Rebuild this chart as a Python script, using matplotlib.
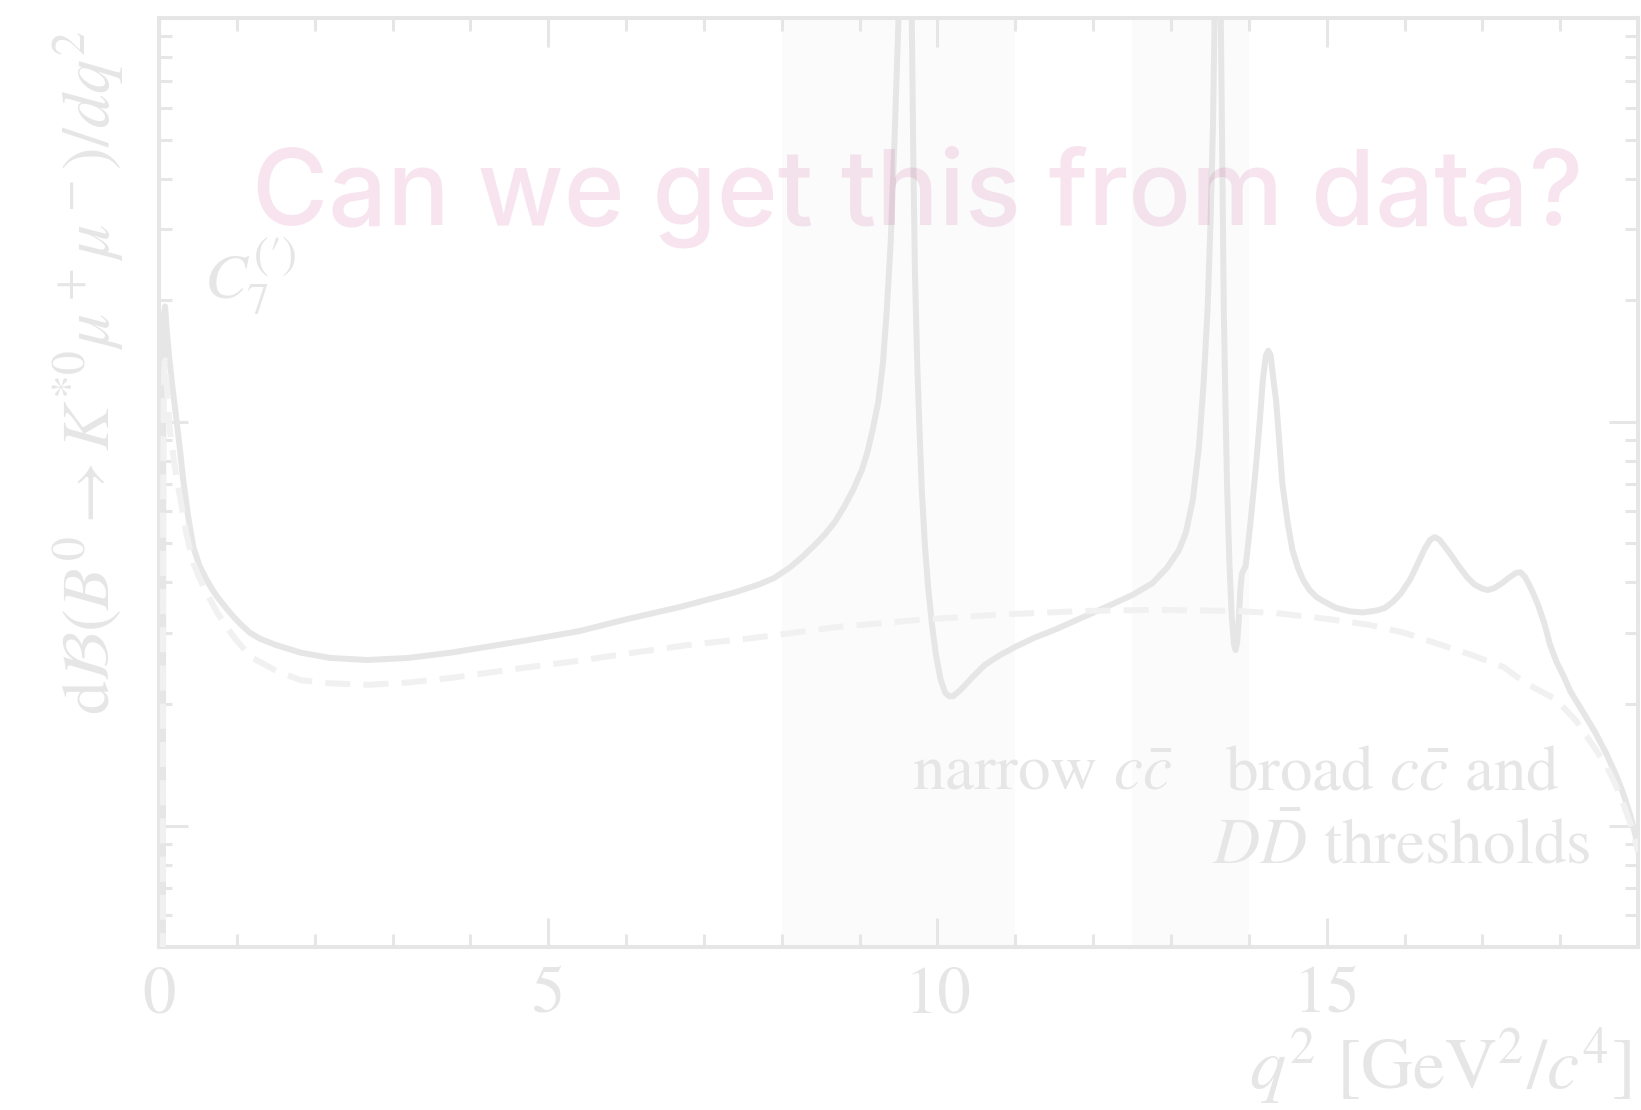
import matplotlib
matplotlib.use("Agg")
import matplotlib.pyplot as plt
from matplotlib.ticker import MultipleLocator, LogLocator, NullFormatter

# q^2 [GeV^2/c^4] and dB/dq^2 (arbitrary units, log scale)
q2_full = [0.045, 0.055, 0.065, 0.078, 0.10, 0.13, 0.17, 0.23, 0.27, 0.31, 0.37, 0.44,
           0.52, 0.60, 0.68, 0.75, 0.85, 0.95, 1.05, 1.17, 1.30, 1.50, 1.82, 2.20,
           2.68, 3.20, 3.75, 4.70, 5.40, 6.00, 6.70, 7.40, 7.70, 7.90, 8.10, 8.25,
           8.40, 8.55, 8.68, 8.80, 8.92, 9.03, 9.10, 9.17, 9.24, 9.30, 9.35, 9.40,
           9.45, 9.50, 9.585, 9.67, 9.69, 9.71, 9.74, 9.77, 9.80, 9.84, 9.88, 9.93,
           9.98, 10.04, 10.10, 10.15, 10.20, 10.30, 10.45, 10.61, 10.80, 11.00, 11.25, 11.50,
           11.90, 12.20, 12.50, 12.76, 12.95, 13.10, 13.19, 13.28, 13.36, 13.42, 13.47, 13.51,
           13.54, 13.56, 13.60, 13.64, 13.665, 13.68, 13.70, 13.72, 13.75, 13.78, 13.81, 13.83,
           13.85, 13.87, 13.89, 13.91, 13.96, 14.02, 14.09, 14.14, 14.18, 14.22, 14.25, 14.28,
           14.31, 14.35, 14.39, 14.43, 14.50, 14.56, 14.63, 14.70, 14.78, 14.87, 14.95, 15.12,
           15.30, 15.47, 15.65, 15.75, 15.85, 15.95, 16.07, 16.17, 16.26, 16.33, 16.39, 16.45,
           16.52, 16.60, 16.70, 16.80, 16.90, 17.00, 17.07, 17.15, 17.25, 17.35, 17.43, 17.49,
           17.55, 17.60, 17.65, 17.72, 17.80, 17.87, 17.95, 18.05, 18.13, 18.30, 18.45, 18.59,
           18.72, 18.81, 18.90, 18.97, 19.00]
dbr_full = [0.01, 12.0, 18.5, 19.3, 16.8, 14.5, 12.3, 9.9, 8.5, 7.2, 5.9, 4.9,
            4.4, 4.1, 3.85, 3.68, 3.48, 3.3, 3.15, 3.0, 2.9, 2.8, 2.68, 2.6,
            2.57, 2.6, 2.68, 2.87, 3.03, 3.24, 3.48, 3.78, 3.95, 4.1, 4.35, 4.6,
            4.9, 5.25, 5.64, 6.15, 6.8, 7.6, 8.4, 9.6, 11.2, 14.0, 19.0, 28.0,
            51.0, 100.0, 2000.0, 100.0, 45.0, 24.0, 14.0, 9.5, 6.7, 4.9, 3.9, 3.14,
            2.65, 2.3, 2.13, 2.09, 2.09, 2.17, 2.33, 2.5, 2.64, 2.77, 2.92, 3.05,
            3.3, 3.5, 3.72, 3.98, 4.35, 4.8, 5.3, 6.4, 8.7, 12.5, 19.0, 32.0,
            55.0, 100.0, 2000.0, 100.0, 35.0, 18.0, 11.0, 7.0, 4.5, 3.3, 2.8, 2.72,
            2.85, 3.2, 3.8, 4.2, 4.4, 5.6, 7.7, 10.0, 12.7, 14.6, 15.0, 14.6,
            13.0, 11.3, 9.0, 7.05, 5.6, 4.82, 4.35, 4.05, 3.83, 3.68, 3.6, 3.46,
            3.39, 3.37, 3.41, 3.46, 3.58, 3.75, 4.06, 4.45, 4.85, 5.1, 5.18, 5.1,
            4.9, 4.67, 4.38, 4.13, 3.95, 3.86, 3.83, 3.87, 3.98, 4.12, 4.22, 4.24,
            4.12, 3.95, 3.77, 3.5, 3.15, 2.8, 2.55, 2.33, 2.15, 1.9, 1.7, 1.51,
            1.33, 1.2, 1.06, 0.94, 0.88]

# short-distance part only (no charm loops)
q2_sd = [0.045, 0.052, 0.06, 0.07, 0.08, 0.10, 0.14, 0.20, 0.27, 0.35, 0.44, 0.52,
         0.60, 0.75, 0.95, 1.17, 1.50, 1.82, 2.20, 2.68, 3.20, 3.75, 4.70, 5.40,
         6.04, 6.80, 7.61, 8.70, 9.76, 10.80, 11.90, 12.80, 13.83, 14.40, 15.00, 15.55,
         16.00, 16.40, 16.85, 17.27, 17.56, 17.95, 18.20, 18.43, 18.60, 18.72, 18.85, 18.94,
         19.00]
dbr_sd = [0.01, 6.0, 12.0, 14.0, 14.2, 12.3, 9.5, 7.8, 6.5, 5.3, 4.47, 4.1,
          3.8, 3.36, 2.95, 2.62, 2.42, 2.29, 2.25, 2.23, 2.26, 2.32, 2.46, 2.56,
          2.67, 2.8, 2.91, 3.1, 3.23, 3.33, 3.4, 3.42, 3.4, 3.35, 3.25, 3.14,
          3.0, 2.83, 2.65, 2.47, 2.25, 2.05, 1.82, 1.57, 1.4, 1.25, 1.08, 0.96,
          0.86]

# charmonium regions
bands = [(8.0, 11.0), (12.5, 14.0)]

grey = "#e6e6e6"
plt.rcParams["font.family"] = ["STIXGeneral", "DejaVu Serif"]
plt.rcParams["mathtext.fontset"] = "stix"

fig = plt.figure(figsize=(16.41, 11.10), dpi=100)
ax = fig.add_axes([0.0969, 0.1468, 0.9013, 0.8370])

for lo, hi in bands:
    ax.axvspan(lo, hi, color="#fbfbfb", lw=0, zorder=0)

ax.plot(q2_full, dbr_full, color=grey, lw=4.3, solid_joinstyle="round", zorder=2)
ax.plot(q2_sd, dbr_sd, color="#f1f1f1", lw=4.3, dashes=(4.2, 2.2), zorder=3)

ax.set_yscale("log")
ax.set_xlim(0, 19)
ax.set_ylim(0.5, 100)

ax.xaxis.set_major_locator(MultipleLocator(5))
ax.xaxis.set_minor_locator(MultipleLocator(1))
ax.yaxis.set_major_locator(LogLocator(base=10))
ax.yaxis.set_minor_locator(LogLocator(base=10, subs=range(2, 10)))
ax.yaxis.set_minor_formatter(NullFormatter())

for s in ax.spines.values():
    s.set_color(grey)
    s.set_linewidth(2.9)
ax.tick_params(which="both", direction="in", top=True, right=True, color=grey,
               labelcolor=grey, labelsize=48, width=2.2, pad=14)
ax.tick_params(which="major", length=21)
ax.tick_params(which="minor", length=9.5)
ax.tick_params(axis="y", labelleft=False)

fig.text(0.054, 0.972, r"$\mathrm{d}\mathcal{B}(B^0\to K^{*0}\mu^+\mu^-)/dq^2$",
         rotation=90, ha="center", va="top", fontsize=49, color=grey)
fig.text(0.994, 0.019, r"$q^2$ [GeV$^2/c^4$]", ha="right", va="baseline",
         fontsize=52, color=grey)

ax.text(0.0304, 0.698, r"$C_7^{(\prime)}$", transform=ax.transAxes, ha="left",
        va="baseline", fontsize=46, color=grey)
ax.text(0.685, 0.170, r"narrow $c\bar{c}$", transform=ax.transAxes, ha="right",
        va="baseline", fontsize=47, color=grey)
ax.text(0.834, 0.170, r"broad $c\bar{c}$ and", transform=ax.transAxes, ha="center",
        va="baseline", fontsize=47, color=grey)
ax.text(0.840, 0.0904, r"$D\bar{D}$ thresholds", transform=ax.transAxes, ha="center",
        va="baseline", fontsize=47, color=grey)

fig.text(0.1535, 0.798, "Can we get this from data?", ha="left", va="baseline",
         fontsize=74.8, fontfamily="Inter", fontweight="medium", color="#be2878",
         alpha=0.12, zorder=10)

fig.savefig("out.png", dpi=100)
